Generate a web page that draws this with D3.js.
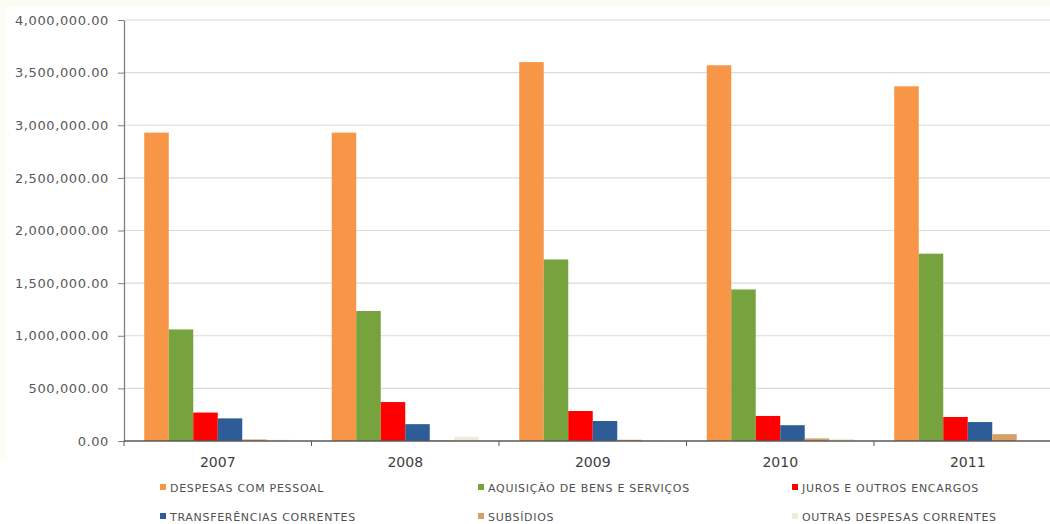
<!DOCTYPE html>
<html><head><meta charset="utf-8">
<script src="https://cdn.jsdelivr.net/npm/d3@7"></script>
<style>
body{margin:0;background:#fff;}
svg{display:block;}
</style></head>
<body>
<svg id="chart" width="1050" height="524"></svg>
<script>
const years = ["2007","2008","2009","2010","2011"];
const seriesNames = ["DESPESAS COM PESSOAL","AQUISIÇÃO DE BENS E SERVIÇOS","JUROS E OUTROS ENCARGOS","TRANSFERÊNCIAS CORRENTES","SUBSÍDIOS","OUTRAS DESPESAS CORRENTES"];
const seriesColors = ["#F79646","#77A33F","#FF0000","#2E5C96","#D9A066","#F2EAD8"];
const despesasPessoal = [2930000,2930000,3600000,3570000,3370000];
const aquisicaoBens = [1060000,1235000,1725000,1440000,1780000];
const jurosEncargos = [270000,370000,285000,238000,228000];
const transferencias = [215000,160000,190000,150000,180000];
const subsidios = [15000,5000,12000,25000,65000];
const outrasDespesas = [12000,40000,6000,20000,3000];
const seriesValues = [despesasPessoal,aquisicaoBens,jurosEncargos,transferencias,subsidios,outrasDespesas];
const yTicks = [0,500000,1000000,1500000,2000000,2500000,3000000,3500000,4000000];

const svg = d3.select("#chart");
const mLeft = 124, mRight = 1061.5, mTop = 20, mBottom = 441;

// faint background hints at top/left
svg.append("rect").attr("x",0).attr("y",0).attr("width",1050).attr("height",6).attr("fill","#FBFBF2");
svg.append("rect").attr("x",0).attr("y",0).attr("width",6).attr("height",460).attr("fill","#FCFDF6");

const y = d3.scaleLinear().domain([0,4000000]).range([mBottom,mTop]);
const x0 = d3.scaleBand().domain(years).range([mLeft,mRight]).paddingInner(0).paddingOuter(0);
const x1 = d3.scaleBand().domain(d3.range(seriesNames.length)).range([0,x0.bandwidth()]).paddingInner(0).paddingOuter(0.826);

// gridlines
svg.append("g").selectAll("line").data(yTicks.filter(d=>d>0)).join("line")
  .attr("x1",mLeft).attr("x2",1050).attr("y1",d=>y(d)).attr("y2",d=>y(d))
  .attr("stroke","#DADADA").attr("stroke-width",1.2);

// bars
const fmt = d => d3.format(",.2f")(d);
years.forEach((yr,i)=>{
  const g = svg.append("g").attr("transform",`translate(${x0(yr)},0)`);
  seriesValues.forEach((vals,s)=>{
    g.append("rect").attr("x",x1(s)).attr("width",x1.bandwidth())
      .attr("y",y(vals[i])).attr("height",mBottom-y(vals[i]))
      .attr("fill",seriesColors[s]);
  });
});

// y axis
const yAxis = svg.append("g").attr("transform",`translate(${mLeft},0)`)
  .call(d3.axisLeft(y).tickValues(yTicks).tickSize(6).tickSizeOuter(0).tickFormat(fmt));
yAxis.select(".domain").attr("stroke","#7F7F7F").attr("stroke-width",1.3);
yAxis.selectAll(".tick line").attr("stroke","#7F7F7F");
yAxis.selectAll("text").attr("font-family","DejaVu Sans, sans-serif").attr("font-size","13px")
  .attr("letter-spacing","0.6px").attr("fill","#595959").attr("x",-15);

// x axis
const xAxis = svg.append("g").attr("transform",`translate(0,${mBottom})`)
  .call(d3.axisBottom(x0).tickSize(0).tickPadding(16));
xAxis.select(".domain").remove();
xAxis.append("line").attr("x1",mLeft).attr("x2",1050).attr("y1",0).attr("y2",0).attr("stroke","#595959").attr("stroke-width",1.3);
xAxis.selectAll("line.bd").data(years).join("line").attr("class","bd")
  .attr("x1",d=>x0(d)).attr("x2",d=>x0(d)).attr("y1",0).attr("y2",5).attr("stroke","#595959");
xAxis.selectAll(".tick text").attr("font-family","DejaVu Sans, sans-serif").attr("font-size","14px").attr("fill","#404040");

// legend
const legX = [160,478,792], legY = [488,517];
const leg = svg.append("g");
seriesNames.forEach((n,i)=>{
  const col = i%3, row = Math.floor(i/3);
  const g = leg.append("g").attr("transform",`translate(${legX[col]},${legY[row]})`);
  g.append("rect").attr("x",0).attr("y",-4).attr("width",6).attr("height",6).attr("fill",seriesColors[i]);
  g.append("text").attr("x",10).attr("y",0).attr("dy","0.35em")
    .attr("font-family","DejaVu Sans, sans-serif").attr("font-size","11px").attr("letter-spacing","0.7px").attr("fill","#505050")
    .text(n);
});
</script>
</body></html>
